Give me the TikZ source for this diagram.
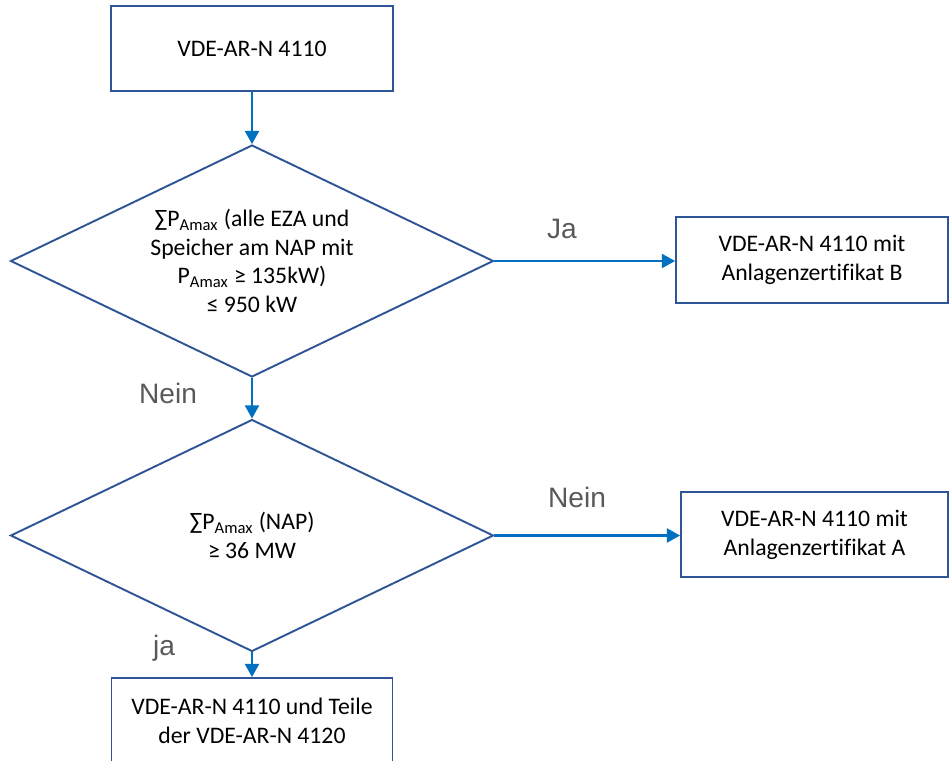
\documentclass[tikz,border=0pt]{standalone}
\usepackage{fontspec}
\setmainfont{Carlito}[Ligatures=NoCommon]
\newfontfamily\labelfont{Liberation Sans}
\usetikzlibrary{shapes.geometric, arrows.meta}

\definecolor{boxblue}{HTML}{2F5597}
\definecolor{arrowblue}{HTML}{0070C0}
\definecolor{labelgray}{HTML}{595959}

\tikzset{
    box/.style={draw=boxblue, line width=1.1pt, rectangle, align=center, inner sep=0pt,
        font=\fontsize{13.5}{16.5}\selectfont},
    decision/.style={draw=boxblue, line width=1.1pt, diamond, aspect=2.08, inner sep=0pt,
        align=center, minimum width=9.66cm, minimum height=4.64cm,
        font=\fontsize{13.5}{16.2}\selectfont},
    flow/.style={draw=arrowblue, line width=1.2pt, -{Triangle[length=7.5pt,width=8pt]}},
    answer/.style={text=labelgray, anchor=base, font=\labelfont\fontsize{16}{18}\selectfont}
}

\begin{document}
\begin{tikzpicture}[x=0.02cm, y=-0.02cm]
        % Fix the page to the size of the reference
        \useasboundingbox (0,0) rectangle (949,760);

        % Boxes
        \node[box, minimum width=5.64cm, minimum height=1.70cm] (start) at (252,48.5) {VDE-AR-N 4110};
        \node[box, minimum width=5.44cm, minimum height=1.72cm] (certB) at (812,260) {VDE-AR-N 4110 mit\\Anlagenzertifikat B};
        \node[box, minimum width=5.34cm, minimum height=1.70cm] (certA) at (814.5,534.5) {VDE-AR-N 4110 mit\\Anlagenzertifikat A};
        \node[box, minimum width=5.62cm, minimum height=1.70cm] (parts) at (252,720.5) {VDE-AR-N 4110 und Teile\\der VDE-AR-N 4120};

        % Decisions
        \node[decision] (sumEZA) at (252,261) {∑P\textsubscript{Amax} (alle EZA und\\Speicher am NAP mit\\P\textsubscript{Amax} ≥ 135kW)\\≤ 950 kW};
        \node[decision] (sumNAP) at (252,535.5) {∑P\textsubscript{Amax} (NAP)\\≥ 36 MW};

        % Connectors
        \draw[flow] (start.south) -- (sumEZA.north);
        \draw[flow] (sumEZA.east) -- (sumEZA.east -| certB.west);
        \draw[flow] (sumEZA.south) -- (sumNAP.north);
        \draw[flow] (sumNAP.east) -- (sumNAP.east -| certA.west);
        \draw[flow] (sumNAP.south) -- (parts.north);

        % Answers
        \node[answer] (yesB) at (562,238) {Ja};
        \node[answer] (noA) at (577,507) {Nein};
        \node[answer] (noNext) at (168,403) {Nein};
        \node[answer] (yesParts) at (164,655) {ja};
    \end{tikzpicture}
\end{document}
